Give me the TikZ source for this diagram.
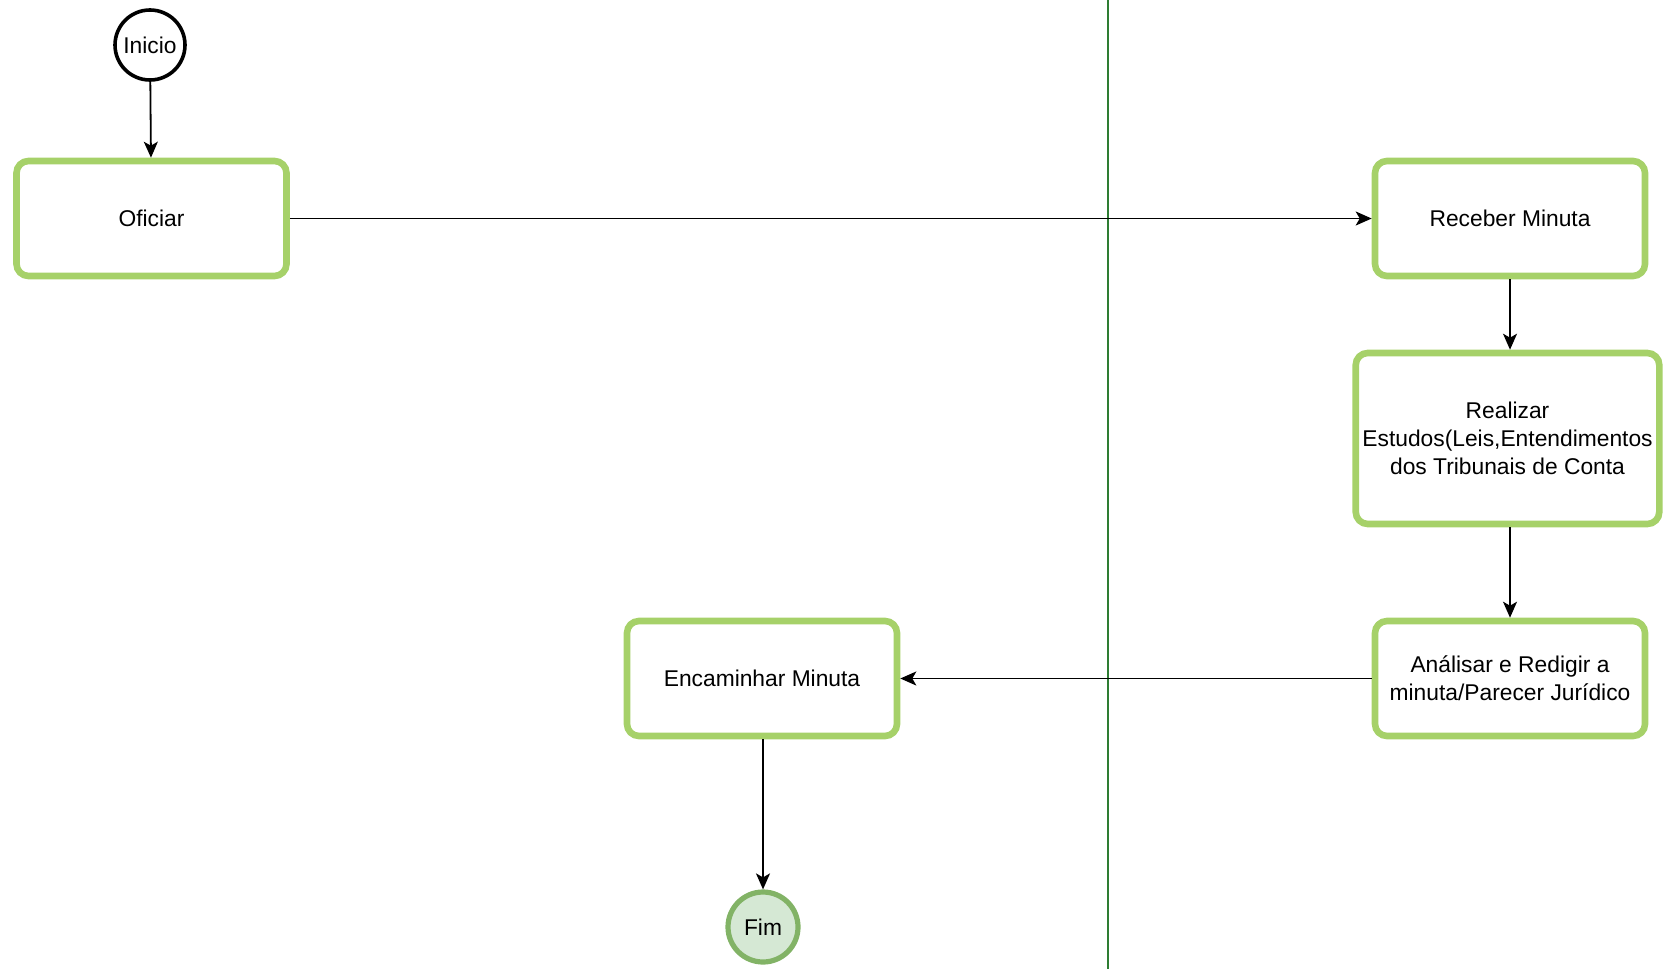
\documentclass[tikz,border=0pt]{standalone}
\usepackage{fontspec}
\setmainfont{Liberation Sans}
\usetikzlibrary{arrows.meta}
\definecolor{boxgreen}{RGB}{166,209,105}
\definecolor{lanegreen}{RGB}{46,125,50}
\definecolor{fimfill}{RGB}{213,232,212}
\definecolor{fimdraw}{RGB}{130,179,102}
\begin{document}
\begin{tikzpicture}
		[	x=0.5pt,y=-0.5pt,
		task/.style={rectangle,rounded corners=6pt,draw=boxgreen,line width=3.3pt,fill=white,minimum width=135pt,minimum height=57.5pt,align=center,font=\fontsize{11.4}{14}\selectfont},
		start/.style={circle,draw=black,line width=1.8pt,fill=white,minimum size=35pt,inner sep=0pt,font=\fontsize{11.4}{14}\selectfont},
		stop/.style={circle,draw=fimdraw,line width=2.6pt,fill=fimfill,minimum size=35pt,inner sep=0pt,font=\fontsize{11.4}{14}\selectfont},
		flow/.style={-{Stealth[length=8pt,width=7pt,inset=2pt]},line width=0.9pt}
		]
		\useasboundingbox (0,0) rectangle (1663,969);
		\draw[lanegreen,line width=1pt] (1108,0) -- (1108,969);
		\node[start] (inicio) at (150,45){Inicio};
		\node[task] (oficiar) at (151.5,218.5){Oficiar};
		\node[task] (receber) at (1510,218.5){Receber Minuta};
		\node[task,minimum width=151.5pt,minimum height=85.5pt] (realizar) at (1507.5,438.5){Realizar\\Estudos(Leis,Entendimentos\\dos Tribunais de Conta};
		\node[task] (analisar) at (1510,678.5){Análisar e Redigir a\\minuta/Parecer Jurídico};
		\node[task] (encaminhar) at (762,678.5){Encaminhar Minuta};
		\node[stop] (fim) at (763,927){Fim};
\draw[flow] (inicio) -- (oficiar);
\draw[flow] (oficiar) -- (receber);
\draw[flow] (receber.south -| 1510,0) -- (realizar.north -| 1510,0);
\draw[flow] (realizar.south -| 1510,0) -- (analisar.north -| 1510,0);
\draw[flow] (analisar) -- (encaminhar);
\draw[flow] (encaminhar.south -| 763,0) -- (fim);
\end{tikzpicture}
\end{document}
